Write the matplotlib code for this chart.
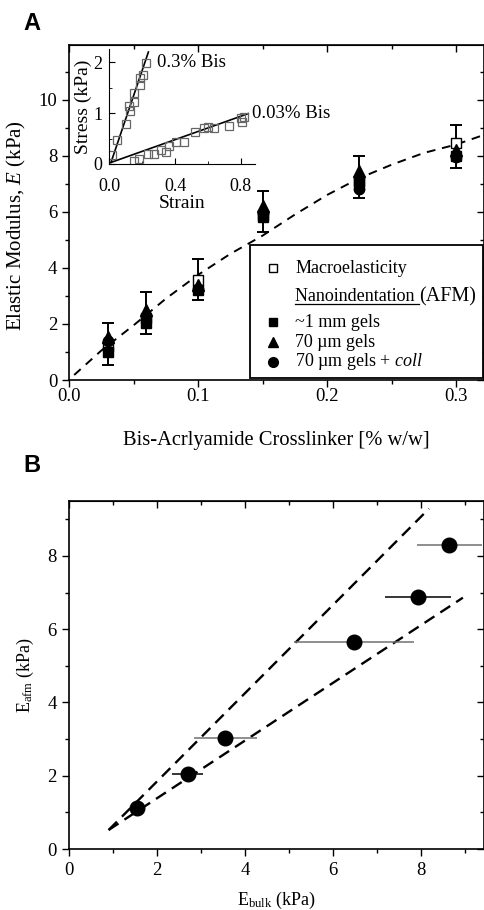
import matplotlib
matplotlib.use("Agg")
import matplotlib.pyplot as plt
from matplotlib.patches import Rectangle
from matplotlib.ticker import MultipleLocator

plt.rcParams['font.family'] = ['Liberation Serif', 'DejaVu Serif']
plt.rcParams['mathtext.fontset'] = 'custom'
plt.rcParams['mathtext.rm'] = 'Liberation Serif'
plt.rcParams['mathtext.it'] = 'Liberation Serif:italic'

# ---- panel A data ----
bis = [0.03, 0.06, 0.1, 0.15, 0.225, 0.3]
E_macro = [1.2, 2.2, 3.57, 5.9, 7.1, 8.45]
E_mm = [1.0, 2.03, 3.2, 5.83, 7.05, 8.0]
E_70 = [1.55, 2.5, 3.4, 6.2, 7.44, 8.2]
E_coll = [1.4, 2.3, 3.25, 5.95, 6.8, 7.97]
err_top = [2.05, 3.15, 4.31, 6.73, 7.98, 9.08]
err_bot = [0.54, 1.65, 2.86, 5.27, 6.49, 7.58]

fit_bis = [0.004, 0.025, 0.05, 0.075, 0.1, 0.125, 0.15, 0.175, 0.2, 0.225, 0.25, 0.275, 0.3, 0.322]
fit_E = [0.18, 1.05, 1.95, 2.9, 3.75, 4.5, 5.15, 5.9, 6.6, 7.2, 7.68, 8.1, 8.4, 8.75]

# inset: stress-strain
strain_hi = [0.018, 0.047, 0.1, 0.122, 0.126, 0.15, 0.15, 0.187, 0.189, 0.203, 0.223]
stress_hi = [0.18, 0.48, 0.78, 1.14, 1.05, 1.22, 1.40, 1.55, 1.68, 1.75, 1.99]
strain_lo = [0.15, 0.183, 0.234, 0.274, 0.313, 0.345, 0.365, 0.406, 0.455, 0.522,
             0.577, 0.603, 0.637, 0.73, 0.806, 0.8, 0.817]
stress_lo = [0.065, 0.1, 0.2, 0.2, 0.27, 0.24, 0.35, 0.43, 0.43, 0.63,
             0.70, 0.72, 0.70, 0.75, 0.83, 0.9, 0.93]
fit_hi_x = [0.01, 0.238]
fit_hi_y = [0.03, 2.2]
fit_lo_x = [0.01, 0.846]
fit_lo_y = [0.03, 0.99]

# ---- panel B data ----
E_bulk = [1.55, 2.7, 3.55, 6.48, 7.93, 8.64]
E_afm = [1.13, 2.04, 3.03, 5.66, 6.88, 8.30]
E_bulk_err = [0.0, 0.35, 0.72, 1.36, 0.74, 0.74]
bar_colors = ['k', 'k', '#707070', '#707070', 'k', '#707070']
upper_x = [0.9, 8.18]
upper_y = [0.52, 9.29]
lower_x = [0.9, 8.95]
lower_y = [0.52, 6.86]

fig = plt.figure(figsize=(4.85, 9.10), dpi=100)


def style_ticks(ax):
    ax.tick_params(which='both', direction='out', labelsize=13.5, top=False, right=False)
    ax.tick_params(which='major', length=5, width=1)
    ax.tick_params(which='minor', length=3, width=1)
    for s in ax.spines.values():
        s.set_linewidth(1.2)
    sx = ax.secondary_xaxis('top')
    sx.set_xticks(ax.get_xticks())
    sx.xaxis.set_minor_locator(ax.xaxis.get_minor_locator())
    sx.tick_params(which='both', direction='in', labeltop=False)
    sx.tick_params(which='major', length=5, width=1)
    sx.tick_params(which='minor', length=3, width=1)
    sy = ax.secondary_yaxis('right')
    sy.set_yticks(ax.get_yticks())
    sy.yaxis.set_minor_locator(ax.yaxis.get_minor_locator())
    sy.tick_params(which='both', direction='in', labelright=False)
    sy.tick_params(which='major', length=5, width=1)
    sy.tick_params(which='minor', length=3, width=1)


# ================= panel A =================
axA = fig.add_axes([0.1423, 0.5824, 0.8557, 0.3681])
axA.set_xlim(0, 0.3217)
axA.set_ylim(0, 11.95)
axA.set_xticks([0.0, 0.1, 0.2, 0.3])
axA.set_xticklabels(['0.0', '0.1', '0.2', '0.3'])
axA.set_yticks([0, 2, 4, 6, 8, 10])
axA.xaxis.set_minor_locator(MultipleLocator(0.05))
axA.yaxis.set_minor_locator(MultipleLocator(1))

axA.plot(fit_bis, fit_E, color='k', lw=1.4, dashes=(4.5, 3.5))

mid = [(t + b) / 2 for t, b in zip(err_top, err_bot)]
half = [(t - b) / 2 for t, b in zip(err_top, err_bot)]
axA.errorbar(bis, mid, yerr=half, fmt='none', ecolor='k', elinewidth=1.4, capsize=4, capthick=1.4)
axA.plot(bis, E_macro, 's', ms=7, mfc='white', mec='k', mew=1)
axA.plot(bis, E_mm, 's', ms=7, color='k')
axA.plot(bis, E_coll, 'o', ms=7.5, color='k')
axA.plot(bis, E_70, '^', ms=8, color='k')

axA.set_xlabel('Bis-Acrlyamide Crosslinker [% w/w]', fontsize=14.8)
axA.xaxis.set_label_coords(0.5, -0.152)
axA.set_ylabel('Elastic Modulus, $E$ (kPa)', fontsize=15)
axA.yaxis.set_label_coords(-0.098, 0.46)
style_ticks(axA)
axA.tick_params(axis='x', pad=0.5)

# legend drawn by hand
axA.add_patch(Rectangle((0.436, 0.006), 0.5616, 0.397, transform=axA.transAxes,
                        fill=True, fc='white', ec='k', lw=1.3, zorder=5))
mx, tx = 0.4916, 0.5446
rows = [0.334, 0.248, 0.173, 0.113, 0.054]
axA.plot([mx], [rows[0]], 's', ms=6, mfc='white', mec='k', mew=1, transform=axA.transAxes, zorder=6)
axA.plot([mx], [rows[2]], 's', ms=6, color='k', transform=axA.transAxes, zorder=6)
axA.plot([mx], [rows[3]], '^', ms=7, color='k', transform=axA.transAxes, zorder=6)
axA.plot([mx], [rows[4]], 'o', ms=7, color='k', transform=axA.transAxes, zorder=6)
axA.text(tx, rows[0], 'Macroelasticity', fontsize=13, va='center', transform=axA.transAxes, zorder=6)
t_nano = axA.text(tx, rows[1], 'Nanoindentation ', fontsize=13, va='center', transform=axA.transAxes, zorder=6)
axA.text(tx, rows[2], '~1 mm gels', fontsize=13, va='center', transform=axA.transAxes, zorder=6)
axA.text(tx, rows[3], '70 \u00b5m gels', fontsize=13, va='center', transform=axA.transAxes, zorder=6)
axA.text(tx, rows[4], '70 \u00b5m gels + $\\mathit{coll}$', fontsize=13, va='center', transform=axA.transAxes, zorder=6)
r = fig.canvas.get_renderer()
bb = t_nano.get_window_extent(r).transformed(axA.transAxes.inverted())
axA.text(bb.x1, rows[1], '(AFM)', fontsize=14.5, va='center', transform=axA.transAxes, zorder=6)
axA.plot([tx, bb.x1], [bb.y0 + 0.004, bb.y0 + 0.004], color='k', lw=0.9, transform=axA.transAxes, zorder=6)

# inset
axI = fig.add_axes([0.2254, 0.8198, 0.3004, 0.1264])
axI.patch.set_alpha(0)
axI.set_xlim(0, 0.887)
axI.set_ylim(0, 2.26)
axI.set_xticks([0.0, 0.4, 0.8])
axI.set_xticklabels(['0.0', '0.4', '0.8'])
axI.set_yticks([0, 1, 2])
axI.xaxis.set_minor_locator(MultipleLocator(0.2))
axI.yaxis.set_minor_locator(MultipleLocator(0.5))
axI.spines['top'].set_visible(False)
axI.spines['right'].set_visible(False)
axI.tick_params(which='both', direction='in', labelsize=13)
axI.tick_params(axis='x', pad=10)
axI.tick_params(axis='y', pad=5)
axI.tick_params(which='major', length=4)
axI.tick_params(which='minor', length=2.5)
axI.plot(fit_hi_x, fit_hi_y, color='k', lw=1.2)
axI.plot(fit_lo_x, fit_lo_y, color='k', lw=1.2)
axI.plot(strain_hi, stress_hi, 's', ms=5.5, mfc='none', mec='#666666', mew=0.9)
axI.plot(strain_lo, stress_lo, 's', ms=5.5, mfc='none', mec='#666666', mew=0.9)
axI.text(0.29, 2.0, '0.3% Bis', fontsize=13.5, va='center')
axI.text(0.87, 0.99, '0.03% Bis', fontsize=13.5, va='center', clip_on=False)
axI.set_xlabel('Strain', fontsize=14, labelpad=0)
axI.set_ylabel('Stress (kPa)', fontsize=14, labelpad=1)

# ================= panel B =================
axB = fig.add_axes([0.1423, 0.0670, 0.8557, 0.3825])
axB.set_xlim(0, 9.43)
axB.set_ylim(0, 9.5)
axB.set_xticks([0, 2, 4, 6, 8])
axB.set_yticks([0, 2, 4, 6, 8])
axB.xaxis.set_minor_locator(MultipleLocator(1))
axB.yaxis.set_minor_locator(MultipleLocator(1))

axB.plot(upper_x, upper_y, color='k', lw=1.7, dashes=(5, 3))
axB.plot(lower_x, lower_y, color='k', lw=1.7, dashes=(5, 3))
for xb, ya, xe, c in zip(E_bulk, E_afm, E_bulk_err, bar_colors):
    axB.errorbar([xb], [ya], xerr=[xe], fmt='none', ecolor=c, elinewidth=1.1, capsize=0)
axB.plot(E_bulk, E_afm, 'o', ms=10.5, color='k')

axB.set_xlabel('E$_{\\mathrm{bulk}}$ (kPa)', fontsize=13, labelpad=8)
axB.set_ylabel('E$_{\\mathrm{afm}}$ (kPa)', fontsize=13, labelpad=8)
style_ticks(axB)
axB.tick_params(axis='both', pad=4)

fig.text(32 / 485, 1 - 23 / 910, 'A', family='Liberation Sans', weight='bold', fontsize=17,
         ha='center', va='center')
fig.text(32 / 485, 1 - 466 / 910, 'B', family='Liberation Sans', weight='bold', fontsize=17,
         ha='center', va='center')

fig.savefig('out.png', dpi=100)
